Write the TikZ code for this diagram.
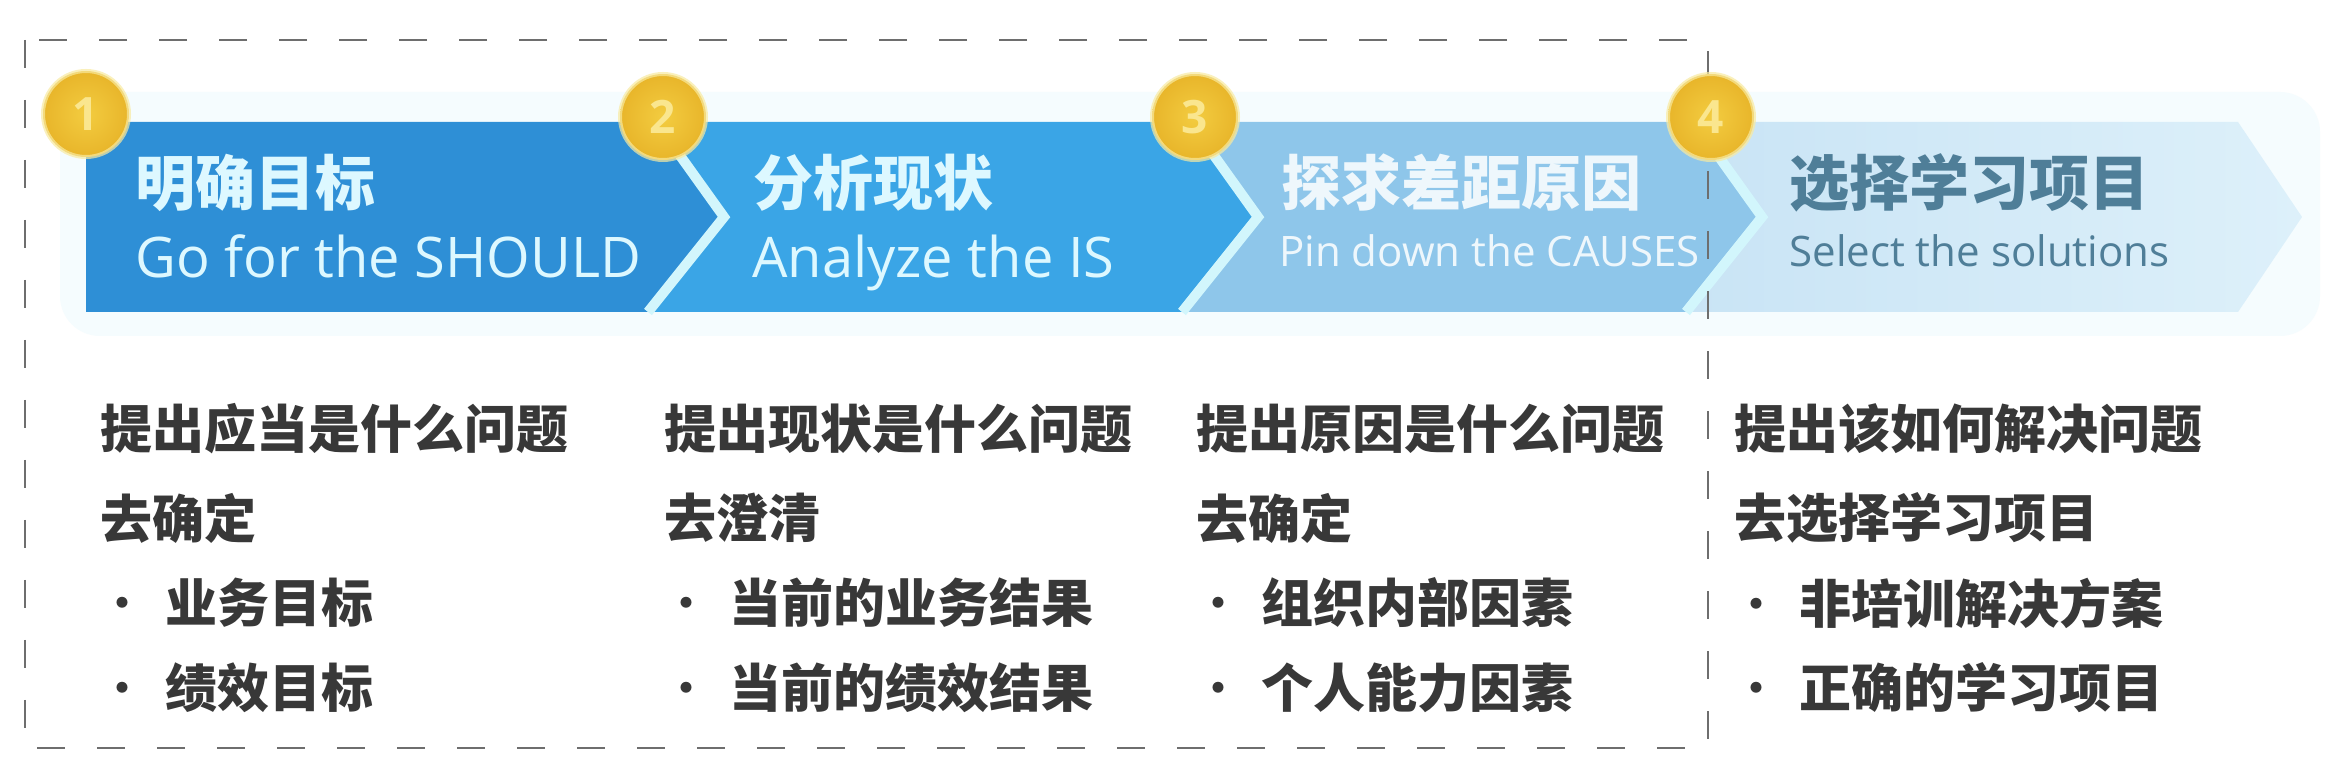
\documentclass[tikz,border=0pt]{standalone}
\usepackage{fontspec}
\setmainfont{Open Sans}
\newfontfamily\cjk{Noto Sans CJK SC}
\newfontfamily\lat{Open Sans}
\definecolor{segA}{HTML}{2E8FD6}
\definecolor{segB}{HTML}{3AA5E6}
\definecolor{segC}{HTML}{8EC6EA}
\definecolor{segD}{HTML}{C9E4F5}
\definecolor{segDr}{HTML}{DDF0FA}
\definecolor{sepc}{HTML}{D2F6FC}
\definecolor{hdtxt}{HTML}{DDF8FF}
\definecolor{hdtxtC}{HTML}{EEF7FC}
\definecolor{hdtxtD}{HTML}{4F7E98}
\definecolor{bodytxt}{HTML}{383838}
\definecolor{coin}{HTML}{E8B52A}
\definecolor{coinin}{HTML}{F3CC40}
\definecolor{coinrim}{HTML}{F8EAA0}
\definecolor{cointxt}{HTML}{FAE68E}
\definecolor{dashc}{HTML}{6E6E6E}
\definecolor{glow}{HTML}{F5FCFE}
\newcommand\bul{\makebox[43pt][c]{\mdseries ·}}
\begin{document}
\begin{tikzpicture}[x=0.5pt,y=-0.5pt,
  hdcjk/.style={anchor=west,inner sep=0pt,font=\cjk\bfseries\fontsize{30}{30}\selectfont},
  hdlat/.style={anchor=base west,inner sep=0pt,font=\lat\fontsize{28}{28}\selectfont},
  hdsmall/.style={anchor=base west,inner sep=0pt,font=\lat\fontsize{21}{21}\selectfont},
  body/.style={anchor=west,inner sep=0pt,text=bodytxt,font=\cjk\bfseries\fontsize{26}{26}\selectfont},
  coinstyle/.style={circle,minimum size=43pt,inner sep=0pt,inner color=coinin,outer color=coin,
     draw=coinrim,draw opacity=0.7,line width=2pt,
     font=\lat\bfseries\fontsize{23}{23}\selectfont,text=cointxt},
  sepline/.style={draw=sepc,line width=5pt,line join=miter},
  boxline/.style={draw=dashc,line width=1.3pt,dash pattern=on 14pt off 16pt}
]
\useasboundingbox[fill=white] (0,0) rectangle (2336,774);
% soft halo round the band
\fill[glow,rounded corners=20pt] (60,92) rectangle (2320,336);
% segments
\fill[segA] (86,122) -- (656,122) -- (724,217) -- (648,312) -- (86,312) -- cycle;
\fill[segB] (656,122) -- (1190,122) -- (1258,217) -- (1182,312) -- (648,312) -- (724,217) -- cycle;
\fill[segC] (1190,122) -- (1694,122) -- (1762,217) -- (1686,312) -- (1182,312) -- (1258,217) -- cycle;
\path[left color=segD,right color=segDr] (1694,122) -- (2238,122) -- (2302,217) -- (2238,312) -- (1686,312) -- (1762,217) -- cycle;
% separators
\draw[sepline] (656,122) -- (724,217) -- (648,312);
\draw[sepline] (1190,122) -- (1258,217) -- (1182,312);
\draw[sepline] (1694,122) -- (1762,217) -- (1686,312);
% header texts
\node[hdcjk,text=hdtxt] (h1) at (135,183) {明确目标};
\node[hdlat,text=hdtxt] (e1) at (135,278) {Go for the SHOULD};
\node[hdcjk,text=hdtxt] (h2) at (753,183) {分析现状};
\node[hdlat,text=hdtxt] (e2) at (752,278) {Analyze the IS};
\node[hdcjk,text=hdtxtC] (h3) at (1281,183) {探求差距原因};
\node[hdsmall,text=hdtxtC] (e3) at (1279,267) {Pin down the CAUSES};
\node[hdcjk,text=hdtxtD] (h4) at (1789,183) {选择学习项目};
\node[hdsmall,text=hdtxtD] (e4) at (1789,267) {Select the solutions};
% body texts
\node[body] (a1) at (100,429) {提出应当是什么问题};
\node[body] (a2) at (100,518) {去确定};
\node[body] (a3) at (79,603) {\bul 业务目标};
\node[body] (a4) at (79,688) {\bul 绩效目标};
\node[body] (b1) at (664,429) {提出现状是什么问题};
\node[body] (b2) at (664,518) {去澄清};
\node[body] (b3) at (643,603) {\bul 当前的业务结果};
\node[body] (b4) at (643,688) {\bul 当前的绩效结果};
\node[body] (c1) at (1196,429) {提出原因是什么问题};
\node[body] (c2) at (1196,518) {去确定};
\node[body] (c3) at (1175,603) {\bul 组织内部因素};
\node[body] (c4) at (1175,688) {\bul 个人能力因素};
\node[body] (d1) at (1734,429) {提出该如何解决问题};
\node[body] (d2) at (1734,518) {去选择学习项目};
\node[body] (d3) at (1713,603) {\bul 非培训解决方案};
\node[body] (d4) at (1713,688) {\bul 正确的学习项目};
% dashed frame
\draw[boxline] (25,40) rectangle (1708,748);
% coins
\node[coinstyle] (k1) at (86,114) {1};
\node[coinstyle] (k2) at (663,117) {2};
\node[coinstyle] (k3) at (1195,117) {3};
\node[coinstyle] (k4) at (1711,117) {4};
\end{tikzpicture}
\end{document}
